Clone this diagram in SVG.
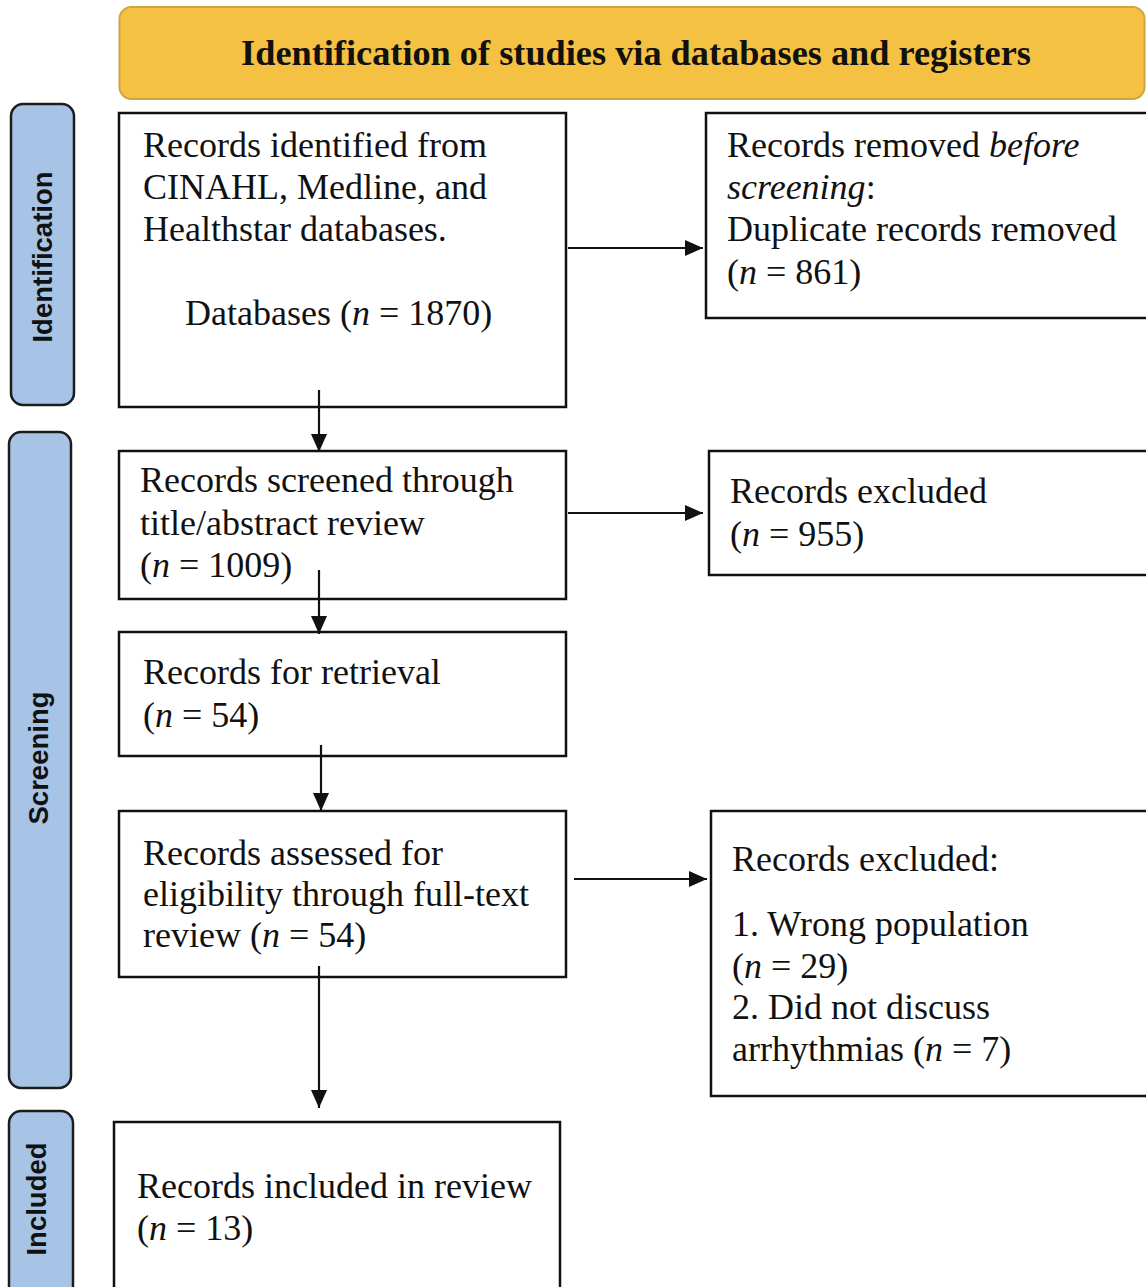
<svg xmlns="http://www.w3.org/2000/svg" width="1146" height="1287" viewBox="0 0 1146 1287">
<style>
.box{fill:#fff;stroke:#111;stroke-width:2.5}
.side{fill:#A7C3E5;stroke:#1c1c1c;stroke-width:2.5}
.hdr{fill:#F5C142;stroke:#CFA33F;stroke-width:2}
.t{font-family:"Liberation Serif","Times New Roman",serif;font-size:36px;fill:#111}
.h{font-family:"Liberation Serif","Times New Roman",serif;font-size:36.3px;font-weight:bold;fill:#111}
.s{font-family:"Liberation Sans",Arial,sans-serif;font-size:27.5px;font-weight:bold;fill:#111}
.conn line{stroke:#111;stroke-width:2.2;marker-end:url(#ah)}
</style>
<defs>
<marker id="ah" viewBox="0 0 18 16" refX="18" refY="8" markerWidth="18" markerHeight="16" markerUnits="userSpaceOnUse" orient="auto">
<path d="M0,0 L18,8 L0,16 z" fill="#111"/>
</marker>
</defs>
<rect width="1146" height="1287" fill="#fff"/>

<g id="header">
<rect class="hdr" x="119.5" y="7" width="1025" height="92" rx="12"/>
<text class="h" x="636" y="65" text-anchor="middle">Identification of studies via databases and registers</text>
</g>

<g id="phase-identification">
<rect class="side" x="11" y="104" width="63" height="301" rx="12"/>
<text class="s" transform="translate(52,257) rotate(-90)" text-anchor="middle">Identification</text>
</g>
<g id="phase-screening">
<rect class="side" x="9" y="432" width="62" height="656" rx="12"/>
<text class="s" transform="translate(48,758) rotate(-90)" text-anchor="middle">Screening</text>
</g>
<g id="phase-included">
<rect class="side" x="9" y="1111" width="64" height="200" rx="12"/>
<text class="s" transform="translate(46,1199) rotate(-90)" text-anchor="middle">Included</text>
</g>

<g id="identified">
<rect class="box" x="119" y="113" width="447" height="294"/>
<text class="t" x="143" y="157">Records identified from</text>
<text class="t" x="143" y="199">CINAHL, Medline, and</text>
<text class="t" x="143" y="241">Healthstar databases.</text>
<text class="t" x="185" y="325">Databases (<tspan font-style="italic">n</tspan> = 1870)</text>
</g>

<g id="removed">
<rect class="box" x="706" y="113" width="460" height="205"/>
<text class="t" x="727" y="157">Records removed <tspan font-style="italic">before</tspan></text>
<text class="t" x="727" y="199"><tspan font-style="italic">screening</tspan>:</text>
<text class="t" x="727" y="241">Duplicate records removed</text>
<text class="t" x="727" y="284">(<tspan font-style="italic">n</tspan> = 861)</text>
</g>

<g id="screened">
<rect class="box" x="119" y="451" width="447" height="148"/>
<text class="t" x="140" y="492">Records screened through</text>
<text class="t" x="140" y="535">title/abstract review</text>
<text class="t" x="140" y="577">(<tspan font-style="italic">n</tspan> = 1009)</text>
</g>

<g id="excluded1">
<rect class="box" x="709" y="451" width="460" height="124"/>
<text class="t" x="730" y="503">Records excluded</text>
<text class="t" x="730" y="546">(<tspan font-style="italic">n</tspan> = 955)</text>
</g>

<g id="retrieval">
<rect class="box" x="119" y="632" width="447" height="124"/>
<text class="t" x="143" y="684">Records for retrieval</text>
<text class="t" x="143" y="727">(<tspan font-style="italic">n</tspan> = 54)</text>
</g>

<g id="assessed">
<rect class="box" x="119" y="811" width="447" height="166"/>
<text class="t" x="143" y="865">Records assessed for</text>
<text class="t" x="143" y="906">eligibility through full-text</text>
<text class="t" x="143" y="947">review (<tspan font-style="italic">n</tspan> = 54)</text>
</g>

<g id="excluded2">
<rect class="box" x="711" y="811" width="460" height="285"/>
<text class="t" x="732" y="871">Records excluded:</text>
<text class="t" x="732" y="936">1. Wrong population</text>
<text class="t" x="732" y="978">(<tspan font-style="italic">n</tspan> = 29)</text>
<text class="t" x="732" y="1019">2. Did not discuss</text>
<text class="t" x="732" y="1061">arrhythmias (<tspan font-style="italic">n</tspan> = 7)</text>
</g>

<g id="included">
<rect class="box" x="114" y="1122" width="446" height="200"/>
<text class="t" x="137" y="1198">Records included in review</text>
<text class="t" x="137" y="1240">(<tspan font-style="italic">n</tspan> = 13)</text>
</g>

<g id="connectors" class="conn">
<line x1="319" y1="390" x2="319" y2="452"/>
<line x1="568" y1="248" x2="703" y2="248"/>
<line x1="568" y1="513" x2="703" y2="513"/>
<line x1="319" y1="570" x2="319" y2="634"/>
<line x1="321" y1="745" x2="321" y2="811"/>
<line x1="574" y1="879" x2="707" y2="879"/>
<line x1="319" y1="966" x2="319" y2="1108"/>
</g>
</svg>
